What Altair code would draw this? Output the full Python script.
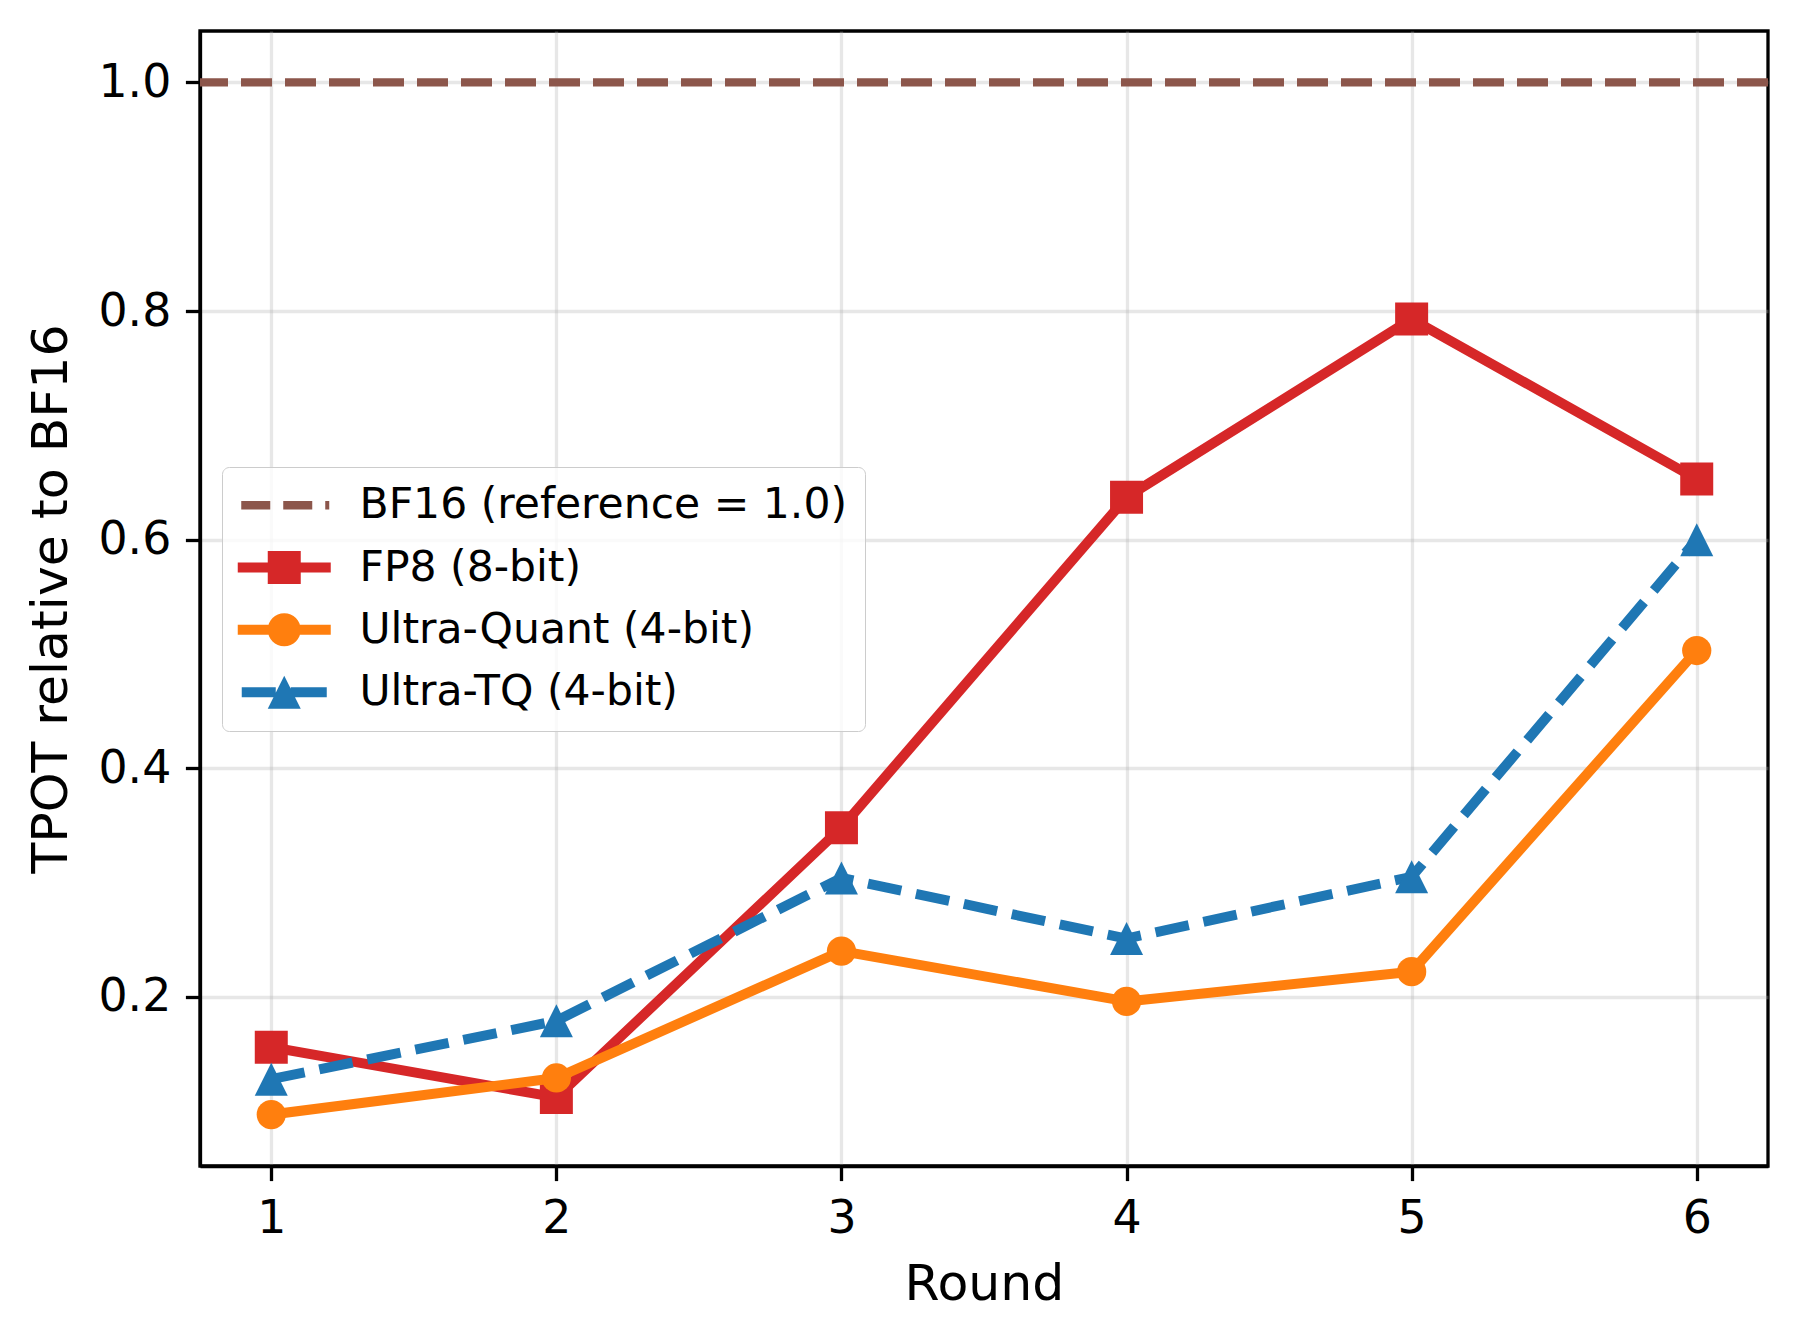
import altair as alt
import pandas as pd

rounds = [1, 2, 3, 4, 5, 6]
fp8 = [0.156, 0.112, 0.348, 0.637, 0.793, 0.653]
ultra_quant = [0.097, 0.129, 0.240, 0.196, 0.222, 0.503]
ultra_tq = [0.128, 0.179, 0.304, 0.251, 0.305, 0.600]
bf16_ref = [1.0]

series_names = ["BF16 (reference = 1.0)", "FP8 (8-bit)", "Ultra-Quant (4-bit)", "Ultra-TQ (4-bit)"]
colors = ["#8c564b", "#d62728", "#ff7f0e", "#1f77b4"]
y_ticks = [0.2, 0.4, 0.6, 0.8, 1.0]

FONT = "DejaVu Sans"
U = 16.5  # px per unit of custom symbol path (size = 33^2)


def rect(x1, x2, h):
    return f"M{x1/U:.3f},{-h/U:.3f}H{x2/U:.3f}V{h/U:.3f}H{x1/U:.3f}Z"


square = "M-1,-1H1V1H-1Z"
circle = "M1,0A1,1 0 1,1 -1,0A1,1 0 1,1 1,0Z"
triangle = "M0,-1L1,1L-1,1Z"

legend_paths = [
    rect(-43, -14, 4.2) + rect(-1, 28, 4.2) + rect(41, 45, 4.2),
    rect(-46.5, 46.5, 5) + square,
    rect(-46.5, 46.5, 5) + circle,
    rect(-42.5, -8.5, 5) + rect(6.5, 42.5, 5) + triangle,
]

rows = []
for name, vals in zip(series_names[1:], [fp8, ultra_quant, ultra_tq]):
    for r, v in zip(rounds, vals):
        rows.append({"series": name, "round": r, "value": v})
df = pd.DataFrame(rows)

xs = alt.Scale(domain=[0.75, 6.25], nice=False, zero=False)
ys = alt.Scale(domain=[0.052, 1.045], nice=False, zero=False)

x_enc = alt.X("round:Q", scale=xs,
              axis=alt.Axis(values=rounds, format="d", title="Round", labelAngle=0,
                            labelPadding=16, titlePadding=18))
y_enc = alt.Y("value:Q", scale=ys,
              axis=alt.Axis(values=y_ticks, format=".1f", title="TPOT relative to BF16",
                            titlePadding=20))

ref_rule = alt.Chart(pd.DataFrame({"value": bf16_ref})).mark_rule(
    color=colors[0], strokeWidth=8.3, strokeDash=[31, 13]
).encode(y=alt.Y("value:Q", scale=ys))

layers = [ref_rule]
styles = {
    "FP8 (8-bit)": dict(color=colors[1], shape="square", size=1089, dash=None),
    "Ultra-Quant (4-bit)": dict(color=colors[2], shape="circle", size=855, dash=None),
    "Ultra-TQ (4-bit)": dict(color=colors[3], shape=triangle, size=1089, dash=[34, 15]),
}
for name, st in styles.items():
    base = alt.Chart(df).transform_filter(alt.datum.series == name)
    line_kw = dict(color=st["color"], strokeWidth=10, strokeJoin="round")
    if st["dash"]:
        line_kw["strokeDash"] = st["dash"]
        line_kw["strokeCap"] = "butt"
    else:
        line_kw["strokeCap"] = "square"
    line = base.mark_line(**line_kw).encode(x=x_enc, y=y_enc)
    pts = base.mark_point(filled=True, opacity=1, color=st["color"], shape=st["shape"],
                          size=st["size"], strokeWidth=0).encode(x=x_enc, y=y_enc)
    layers += [line, pts]

leg = alt.Legend(
    title=None, orient="none", legendX=22, legendY=436,
    symbolSize=1089, symbolStrokeWidth=0, symbolOffset=24, labelOffset=54,
    labelFont=FONT, labelFontSize=42.5, labelColor="black", labelLimit=800,
    rowPadding=19.3, padding=17,
    fillColor="rgba(255,255,255,0.8)", strokeColor="#cccccc", cornerRadius=7,
)
legend_layer = alt.Chart(pd.DataFrame({"series": series_names})).mark_point(
    filled=True, opacity=1, clip=True
).encode(
    x=alt.value(-3000), y=alt.value(-3000),
    color=alt.Color("series:N", scale=alt.Scale(domain=series_names, range=colors), legend=leg, sort=series_names),
    shape=alt.Shape("series:N", scale=alt.Scale(domain=series_names, range=legend_paths), legend=leg, sort=series_names),
)
layers.append(legend_layer)

chart = alt.layer(*layers).properties(
    width=1568, height=1135,
    autosize=alt.AutoSizeParams(type="none"),
    padding={"left": 200, "top": 31, "right": 32, "bottom": 175},
    background="white",
).configure_view(
    stroke="black", strokeWidth=3.3
).configure_axis(
    labelFont=FONT, labelFontSize=45.8, labelColor="black", labelPadding=14.6,
    titleFont=FONT, titleFontSize=50.5, titleFontWeight="normal", titleColor="black",
    tickSize=14.6, tickWidth=3.3, tickColor="black",
    domainColor="black", domainWidth=3.3,
    gridColor="#b0b0b0", gridOpacity=0.3, gridWidth=3.3,
)

chart.save("out.html", embed_options={"renderer": "svg", "actions": False})
